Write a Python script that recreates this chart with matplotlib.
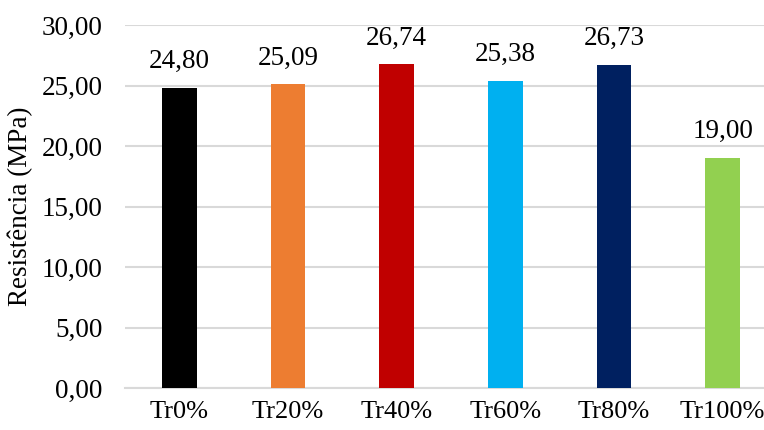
import matplotlib
matplotlib.use('Agg')
import matplotlib.pyplot as plt

plt.rcParams['font.family'] = ['Liberation Serif', 'DejaVu Serif']

categories = ['Tr0%', 'Tr20%', 'Tr40%', 'Tr60%', 'Tr80%', 'Tr100%']
values = [24.80, 25.09, 26.74, 25.38, 26.73, 19.00]
colors = ['#000000', '#ED7D31', '#C00000', '#00B0F0', '#002060', '#92D050']
yticks = [0, 5, 10, 15, 20, 25, 30]


def br(v):
    return f'{v:.2f}'.replace('.', ',')


fig = plt.figure(figsize=(7.64, 4.30), dpi=100)
# plot area runs past the right edge of the image, like the source
ax = fig.add_axes([125 / 764, 1 - 388 / 430, 652 / 764, 363 / 430])

x = range(len(categories))
bars = ax.bar(x, values, width=0.32, color=colors, zorder=3)

for b, v in zip(bars, values):
    ax.annotate(br(v), (b.get_x() + b.get_width() / 2, v),
                xytext=(0, 10), textcoords='offset points',
                ha='center', va='bottom', fontsize=19.5)

ax.set_xlim(-0.5, len(categories) - 0.5)
ax.set_ylim(0, 30)
ax.set_yticks(yticks)
ax.set_yticklabels([br(t) for t in yticks], fontsize=19.5)
ax.set_xticks(list(x))
ax.set_xticklabels(categories, fontsize=19)
ax.tick_params(length=0, pad=9)
ax.tick_params(axis='y', pad=16)

ax.grid(axis='y', color='#D9D9D9', linewidth=1.5, zorder=0)
for s in ['top', 'right', 'left']:
    ax.spines[s].set_visible(False)
ax.spines['bottom'].set_color('#D9D9D9')
ax.spines['bottom'].set_linewidth(1.5)

ax.set_ylabel('Resistência (MPa)', fontsize=19.5, labelpad=6)

fig.savefig('out.png', dpi=100)
